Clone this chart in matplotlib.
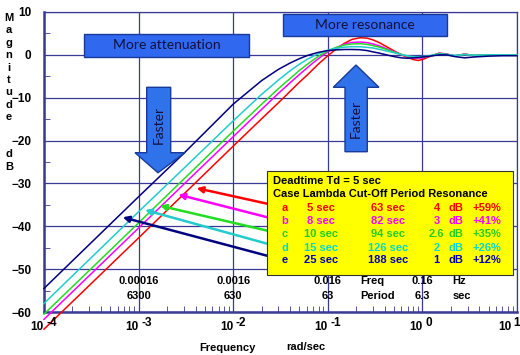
import matplotlib
matplotlib.use('Agg')
import matplotlib.pyplot as plt
from matplotlib.patches import Rectangle, Polygon

freq = [1e-4, 1e-3, 3e-3, 0.01, 0.02, 0.03, 0.04, 0.05, 0.06, 0.07, 0.08,
        0.1, 0.12, 0.15, 0.18, 0.22, 0.26, 0.3, 0.35, 0.4,
        0.5, 0.6, 0.7, 0.8, 0.9, 1.0,
        1.2, 1.5, 1.8, 2.2, 2.8, 3.5, 5, 7, 10]
mag_a = [-64.0, -42.7, -32.5, -21.3, -14.9, -11.2, -8.5, -6.4, -4.8, -3.35, -2.1,
         -0.2, 1.2, 2.7, 3.6, 4.0, 3.9, 3.5, 2.85, 2.15,
         0.95, 0.0, -0.6, -1.1, -1.3, -1.1,
         -0.4, 0.4, 0.2, -0.3, 0.2, -0.2, 0.0, 0.0, 0.0]
mag_b = [-61.7, -40.4, -30.2, -19.1, -12.7, -9.0, -6.5, -4.6, -3.1, -1.85, -0.85,
         0.7, 1.6, 2.5, 2.9, 3.0, 2.85, 2.55, 2.1, 1.6,
         0.75, 0.1, -0.4, -0.7, -0.8, -0.7,
         -0.3, 0.35, 0.15, -0.2, 0.15, -0.15, 0.0, 0.0, 0.0]
mag_c = [-60.5, -39.2, -29.0, -17.8, -11.5, -7.9, -5.5, -3.65, -2.3, -1.2, -0.3,
         0.95, 1.65, 2.3, 2.55, 2.6, 2.45, 2.15, 1.8, 1.4,
         0.65, 0.1, -0.3, -0.55, -0.6, -0.55,
         -0.25, 0.3, 0.1, -0.2, 0.1, -0.1, 0.0, 0.0, 0.0]
mag_d = [-58.0, -36.6, -26.5, -15.4, -9.2, -5.9, -3.7, -2.2, -1.1, -0.3, 0.3,
         1.1, 1.5, 1.8, 1.9, 1.9, 1.75, 1.6, 1.3, 1.0,
         0.5, 0.05, -0.25, -0.4, -0.45, -0.4,
         -0.2, 0.2, 0.1, -0.15, 0.1, -0.1, 0.0, 0.0, 0.0]
mag_e = [-54.5, -33.1, -23.0, -11.5, -6.0, -3.4, -1.9, -0.9, -0.2, 0.25, 0.6,
         1.0, 1.15, 1.25, 1.25, 1.2, 1.0, 0.7, 0.4, 0.1,
         -0.4, -0.7, -0.8, -0.7, -0.6, -0.5,
         -0.3, 0.0, 0.0, -0.4, -0.7, -0.5, -0.3, -0.2, -0.2]

cases = ['a', 'b', 'c', 'd', 'e']
lambdas = ['5 sec', '8 sec', '10 sec', '15 sec', '25 sec']
periods = ['63 sec', '82 sec', '94 sec', '126 sec', '188 sec']
res_db = ['4', '3', '2.6', '2', '1']
res_pct = ['+59%', '+41%', '+35%', '+26%', '+12%']

decades = [1e-4, 1e-3, 1e-2, 1e-1, 1e0, 1e1]
exps = ['-4', '-3', '-2', '-1', '0', '1']
hz_pos = [1e-3, 1e-2, 1e-1, 1e0]
hz_labels = ['0.00016', '0.0016', '0.016', '0.16']
period_labels = ['6300', '630', '63', '6.3']

# arrow tips on the curves (freq, dB) and start height at box edge (dB)
tips = [(4.1e-3, -31.1), (2.63e-3, -32.6), (1.68e-3, -35.2), (1.17e-3, -36.2), (6.8e-4, -37.9)]
tails = [-34.7, -37.9, -41.0, -44.1, -46.9]

line_cols = ['#ff0000', '#ff00ff', '#22dd22', '#22cccc', '#000080']
text_cols = ['#ff0000', '#ff00ff', '#22cc22', '#00d8d8', '#0000b0']
navy = '#3a3a96'

plt.rcParams['font.family'] = ['Liberation Sans', 'DejaVu Sans']

fig = plt.figure(figsize=(5.2, 3.55), dpi=100)
ax = fig.add_axes([0.0846, 0.1211, 0.9096, 0.8451])

for mags, col in zip([mag_a, mag_b, mag_c, mag_d, mag_e], line_cols):
    ax.plot(freq, mags, color=col, lw=1.1, clip_on=False, zorder=3)

ax.set_xscale('log')
ax.set_xlim(1e-4, 10)
ax.set_ylim(-60, 10)
ax.set_yticks(range(-60, 11, 10))
ax.set_yticks(range(-55, 10, 10), minor=True)
ax.grid(True, which='major', color=navy, lw=0.9)
ax.tick_params(axis='both', which='both', direction='in', colors=navy)
ax.tick_params(axis='y', which='major', length=0, pad=9, labelcolor='black', labelsize=8.5)
ax.tick_params(axis='y', which='minor', length=4)
ax.tick_params(axis='x', which='major', length=0)
ax.tick_params(axis='x', which='minor', length=4, labelbottom=False)
ax.set_xticklabels([])
for lab in ax.get_yticklabels():
    lab.set_fontweight('bold')
for side in ['top', 'right']:
    ax.spines[side].set_color(navy)
    ax.spines[side].set_linewidth(0.9)
for side in ['left', 'bottom']:
    ax.spines[side].set_color(navy)
    ax.spines[side].set_linewidth(1.8)

# x tick labels as "10" with raised exponent
xt = ax.get_xaxis_transform()
for d, e in zip(decades[:-1], exps[:-1]):
    ax.text(d, -0.05, '10', transform=xt, ha='right', va='center', fontsize=8.5, fontweight='bold')
    ax.text(d * 1.07, -0.035, e, transform=xt, ha='left', va='center', fontsize=8.5, fontweight='bold')
# last decade sits at the right edge: keep it inside the figure
ax.text(decades[-1] / 1.14, -0.05, '10', transform=xt, ha='right', va='center', fontsize=8.5, fontweight='bold')
ax.text(decades[-1] / 1.1, -0.035, exps[-1], transform=xt, ha='left', va='center', fontsize=8.5, fontweight='bold')

# Hz / period annotations
for p, h, t in zip(hz_pos, hz_labels, period_labels):
    ax.text(p, -52.8, h, ha='center', va='center', fontsize=8, fontweight='bold')
    ax.text(p, -56.2, t, ha='center', va='center', fontsize=8, fontweight='bold')
ax.text(0.219, -52.8, 'Freq', ha='left', va='center', fontsize=8, fontweight='bold')
ax.text(0.219, -56.2, 'Period', ha='left', va='center', fontsize=8, fontweight='bold')
ax.text(2.09, -52.8, 'Hz', ha='left', va='center', fontsize=8, fontweight='bold')
ax.text(2.09, -56.2, 'sec', ha='left', va='center', fontsize=8, fontweight='bold')

fig.text(227 / 520, 1 - 348 / 355, 'Frequency', ha='center', va='center', fontsize=8, fontweight='bold')
fig.text(306 / 520, 1 - 347 / 355, 'rad/sec', ha='center', va='center', fontsize=8, fontweight='bold')
ylab = 'Magnitude  dB'
for i, ch in enumerate(ylab):
    if ch != ' ':
        fig.text(9 / 520, 1 - (18 + 12.4 * i) / 355, ch, ha='center', va='center',
                 fontsize=8, fontweight='bold')

# blue label boxes
at = ax.transAxes
box_fc = '#3068f0'
box_ec = '#1a3a9a'
ax.add_patch(Rectangle((0.0846, 0.851), 0.349, 0.076, transform=at, fc=box_fc, ec=box_ec, lw=1, zorder=5))
ax.text(0.259, 0.889, 'More attenuation', transform=at, ha='center', va='center',
        fontsize=10, family='Lato', color='#101040', zorder=6)
ax.add_patch(Rectangle((0.5047, 0.92), 0.348, 0.073, transform=at, fc=box_fc, ec=box_ec, lw=1, zorder=5))
ax.text(0.679, 0.957, 'More resonance', transform=at, ha='center', va='center',
        fontsize=10, family='Lato', color='#101040', zorder=6)

# "Faster" arrows
down = [(0.2171, 0.749), (0.2679, 0.749), (0.2679, 0.531), (0.298, 0.531),
        (0.241, 0.4643), (0.1924, 0.531), (0.2171, 0.531)]
up = [(0.6364, 0.5343), (0.6835, 0.5343), (0.6835, 0.749), (0.7082, 0.749),
      (0.6596, 0.8233), (0.6116, 0.749), (0.6364, 0.749)]
for pts in [down, up]:
    ax.add_patch(Polygon(pts, closed=True, transform=at, fc='#2f72ea', ec='#1a3a9a', lw=1, zorder=5))
ax.text(0.242, 0.625, 'Faster', transform=at, rotation=90, ha='center', va='center',
        fontsize=10, family='Lato', color='#101040', zorder=6)
ax.text(0.660, 0.645, 'Faster', transform=at, rotation=90, ha='center', va='center',
        fontsize=10, family='Lato', color='#101040', zorder=6)

# pointer arrows from the table to the curves
for (tx, ty), tl, col in zip(tips, tails, line_cols):
    ax.annotate('', xy=(tx, ty), xytext=(2.6e-2, tl - 0.3),
                arrowprops=dict(arrowstyle='-|>', color=col, lw=1.8, mutation_scale=9,
                                shrinkA=0, shrinkB=0), zorder=4)

# yellow table
ax.add_patch(Rectangle((0.471, 0.123), 0.52, 0.348, transform=at, fc='#ffff00', ec='#333333', lw=0.8, zorder=7))
ax.text(0.485, 0.4377, 'Deadtime Td = 5 sec', transform=at, ha='left', va='center',
        fontsize=8, fontweight='bold', zorder=8)
ax.text(0.485, 0.392, 'Case Lambda Cut-Off Period Resonance', transform=at, ha='left', va='center',
        fontsize=8, fontweight='bold', zorder=8)
row_y = [0.346, 0.303, 0.259, 0.214, 0.173]
for i in range(5):
    c = text_cols[i]
    y = row_y[i]
    kw = dict(transform=at, va='center', fontsize=8, fontweight='bold', color=c, zorder=8)
    ax.text(0.5095, y, cases[i], ha='center', **kw)
    ax.text(0.586, y, lambdas[i], ha='center', **kw)
    ax.text(0.727, y, periods[i], ha='center', **kw)
    ax.text(0.83, y, res_db[i], ha='center', **kw)
    ax.text(0.856, y, 'dB', ha='left', **kw)
    ax.text(0.936, y, res_pct[i], ha='center', **kw)

fig.savefig('out.png', dpi=100)
